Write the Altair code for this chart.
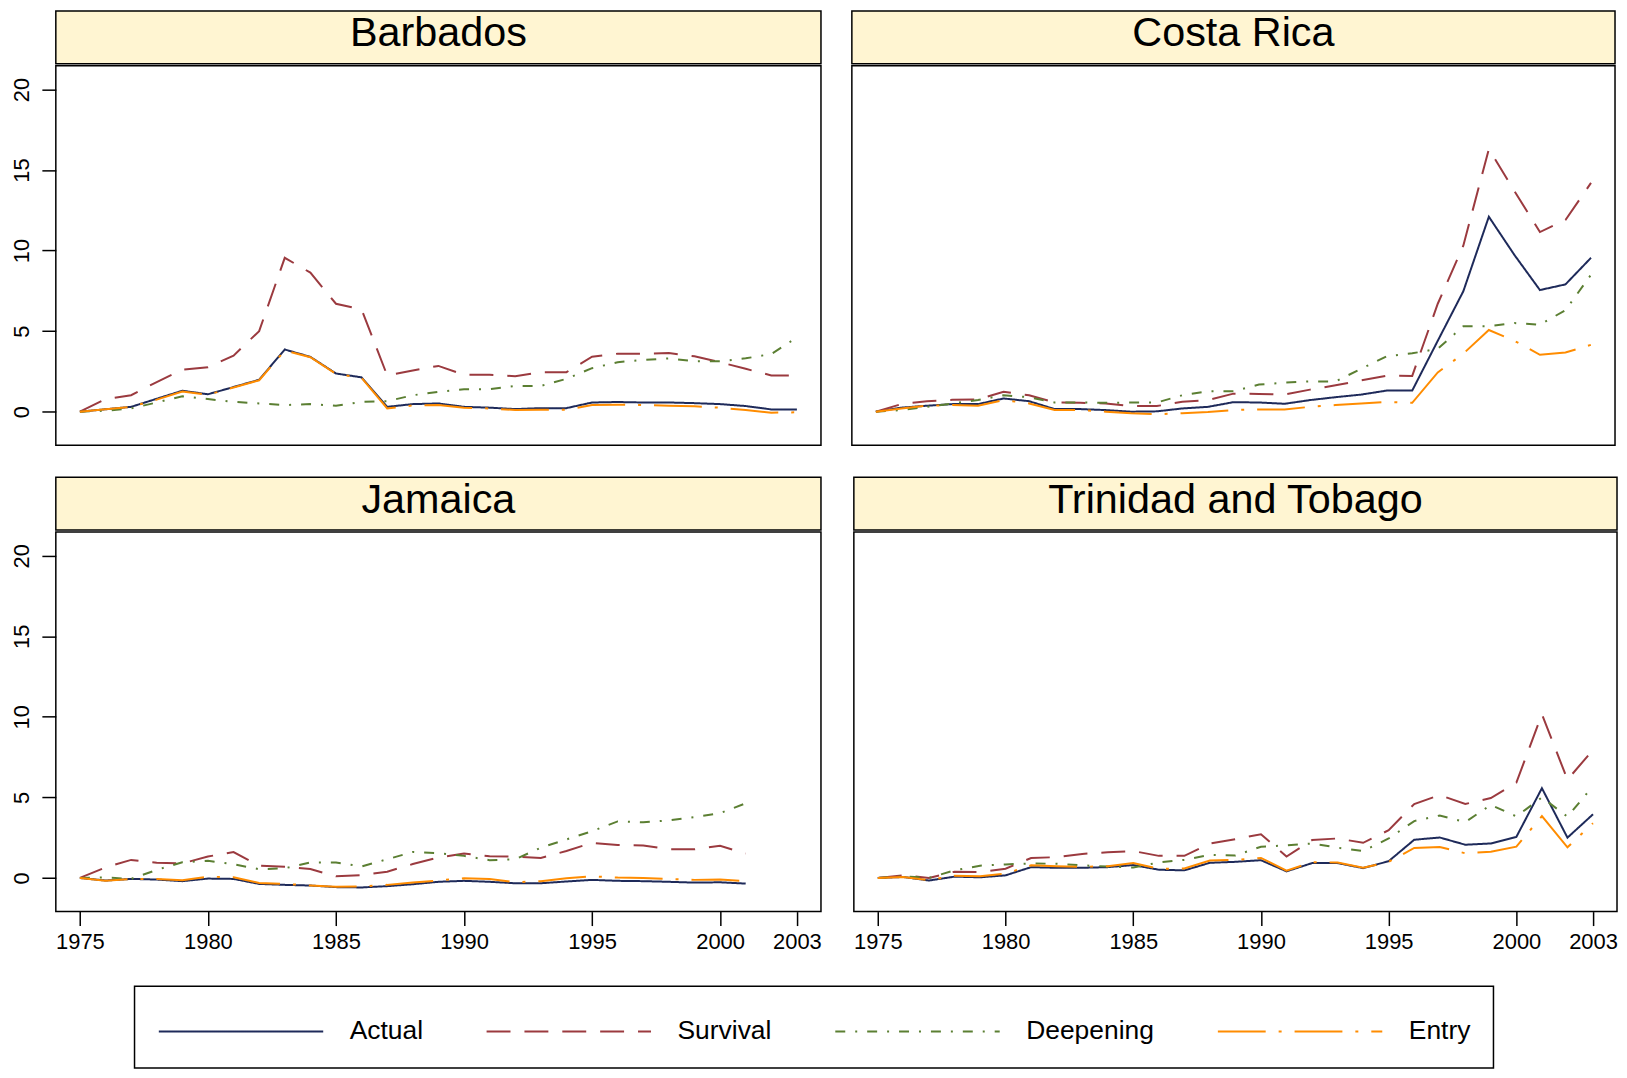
import altair as alt
import pandas as pd

FONT = "Liberation Sans"
STRIP_FILL = "#FFF5D2"

# ---- categories / styles ----
series_names = ["Actual", "Survival", "Deepening", "Entry"]
series_colors = ["#1E2A5A", "#9B3A3F", "#5B7F32", "#FF8C00"]
series_dashes = [[1, 0], [24, 14], [10, 10, 2, 10], [48, 13, 3, 13]]
x_ticks = [1975, 1980, 1985, 1990, 1995, 2000, 2003]
y_ticks = [0, 5, 10, 15, 20]

years_full = list(range(1975, 2004))
years_jam = list(range(1975, 2002))

# ---- Barbados ----
bar_actual = [0, 0.15, 0.3, 0.8, 1.3, 1.08, 1.53, 1.98, 3.86, 3.4, 2.37, 2.13, 0.3, 0.47, 0.51,
              0.3, 0.25, 0.16, 0.22, 0.22, 0.57, 0.6, 0.57, 0.57, 0.53, 0.47, 0.35, 0.14, 0.14]
bar_survival = [0, 0.78, 1.02, 1.84, 2.6, 2.76, 3.48, 5.0, 9.55, 8.63, 6.7, 6.34, 2.25, 2.56, 2.84,
                2.29, 2.29, 2.2, 2.45, 2.45, 3.41, 3.6, 3.6, 3.64, 3.44, 3.07, 2.66, 2.25, 2.25]
bar_deepening = [0, 0.06, 0.2, 0.57, 0.96, 0.78, 0.61, 0.51, 0.41, 0.47, 0.37, 0.61, 0.65, 1.02, 1.23,
                 1.39, 1.39, 1.6, 1.6, 2.04, 2.7, 3.07, 3.21, 3.31, 3.13, 3.13, 3.31, 3.58, 4.6]
bar_entry = [0, 0.15, 0.3, 0.75, 1.25, 1.05, 1.5, 1.95, 3.8, 3.38, 2.35, 2.1, 0.2, 0.39, 0.41,
             0.25, 0.2, 0.1, 0.12, 0.12, 0.41, 0.43, 0.41, 0.37, 0.33, 0.25, 0.1, -0.06, -0.04]

# ---- Costa Rica ----
cr_actual = [0, 0.25, 0.37, 0.47, 0.47, 0.82, 0.65, 0.16, 0.16, 0.1, 0.0, 0.02, 0.2, 0.3, 0.59,
             0.57, 0.49, 0.72, 0.9, 1.06, 1.31, 1.31, 4.4, 7.47, 12.1, 9.73, 7.55, 7.9, 9.55]
cr_survival = [0, 0.47, 0.65, 0.74, 0.76, 1.23, 1.02, 0.57, 0.55, 0.51, 0.35, 0.35, 0.61, 0.72, 1.12,
               1.1, 1.06, 1.37, 1.64, 1.94, 2.23, 2.22, 6.7, 10.3, 16.3, 13.7, 11.15, 11.9, 14.2]
cr_deepening = [0, 0.1, 0.3, 0.51, 0.72, 1.02, 0.9, 0.57, 0.57, 0.55, 0.57, 0.57, 1.02, 1.27, 1.27,
                1.68, 1.8, 1.88, 1.88, 2.66, 3.44, 3.62, 3.9, 5.3, 5.3, 5.5, 5.4, 6.3, 8.5]
cr_entry = [0, 0.2, 0.37, 0.41, 0.37, 0.72, 0.51, 0.1, 0.1, 0.0, -0.1, -0.16, -0.1, -0.02, 0.1,
            0.14, 0.14, 0.3, 0.41, 0.51, 0.61, 0.55, 2.44, 3.6, 5.07, 4.4, 3.53, 3.67, 4.15]

# ---- Jamaica (1975-2001) ----
jam_actual = [0, -0.16, -0.06, -0.1, -0.2, -0.04, -0.06, -0.37, -0.43, -0.47, -0.57, -0.59, -0.51, -0.39,
              -0.24, -0.18, -0.24, -0.33, -0.33, -0.22, -0.12, -0.18, -0.2, -0.24, -0.29, -0.27, -0.35]
jam_survival = [0, 0.65, 1.12, 0.95, 0.9, 1.33, 1.61, 0.76, 0.69, 0.55, 0.1, 0.18, 0.39, 0.86,
                1.27, 1.51, 1.35, 1.33, 1.24, 1.67, 2.18, 2.04, 2.02, 1.78, 1.78, 2.0, 1.51]
jam_deepening = [0, 0.03, -0.06, 0.5, 0.97, 1.06, 0.85, 0.54, 0.6, 0.96, 0.96, 0.71, 1.16, 1.61,
                 1.53, 1.37, 1.1, 1.16, 1.88, 2.39, 2.9, 3.51, 3.45, 3.57, 3.78, 4.02, 4.63]
jam_entry = [0, -0.18, -0.06, -0.06, -0.14, 0.08, 0.04, -0.31, -0.37, -0.47, -0.55, -0.53, -0.43, -0.29,
             -0.16, -0.02, -0.06, -0.27, -0.2, -0.02, 0.1, 0.02, 0.0, -0.06, -0.12, -0.1, -0.2]

# ---- Trinidad and Tobago ----
tt_actual = [0, 0.06, -0.16, 0.08, 0.04, 0.16, 0.67, 0.63, 0.63, 0.67, 0.8, 0.51, 0.47, 0.94, 1.0,
             1.1, 0.41, 0.92, 0.92, 0.61, 1.04, 2.37, 2.51, 2.06, 2.14, 2.55, 5.57, 2.5, 3.95]
tt_survival = [0, 0.16, 0.0, 0.39, 0.37, 0.57, 1.24, 1.29, 1.49, 1.59, 1.67, 1.37, 1.37, 2.14, 2.41,
               2.71, 1.33, 2.35, 2.45, 2.18, 2.96, 4.59, 5.14, 4.59, 4.96, 5.92, 10.16, 6.1, 7.95]
tt_deepening = [0, 0.1, 0.0, 0.47, 0.76, 0.84, 0.9, 0.88, 0.78, 0.71, 0.65, 0.96, 1.12, 1.43, 1.39,
                1.94, 2.02, 2.14, 1.88, 1.67, 2.45, 3.53, 3.88, 3.47, 4.53, 3.82, 5.0, 3.8, 5.7]
tt_entry = [0, 0.06, -0.14, 0.14, 0.1, 0.27, 0.78, 0.73, 0.69, 0.73, 0.92, 0.57, 0.59, 1.08, 1.12,
            1.24, 0.45, 0.98, 0.96, 0.63, 1.0, 1.86, 1.92, 1.53, 1.63, 1.94, 3.84, 1.9, 3.4]


def make_df(years, actual, survival, deepening, entry):
    rows = []
    for name, vals in zip(series_names, [actual, survival, deepening, entry]):
        for yr, v in zip(years, vals):
            rows.append({"series": name, "year": yr, "value": v})
    return pd.DataFrame(rows)


LEG = alt.Legend(
    title=None, orient="none", legendX=79, legendY=979, direction="horizontal",
    symbolType="M-1,0H7", symbolSize=1702, symbolStrokeWidth=2,
    labelFont=FONT, labelFontSize=26.5, labelColor="black", labelOffset=149,
    labelLimit=400, columnPadding=59, padding=23, strokeColor="black",
)

X_DOMAIN = [1974.06, 2003.94]
Y_DOMAIN = [-2.09, 21.47]
STRIP_H = 53
PLOT_H = 381


def panel(country, df, width, show_x, show_y):
    strip = alt.Chart(pd.DataFrame({"country": [country]})).mark_text(
        font=FONT, fontSize=41.5, color="black", align="center", baseline="middle"
    ).encode(
        text="country:N", x=alt.value(width / 2), y=alt.value(23.5)
    ).properties(
        width=width, height=STRIP_H,
        view=alt.ViewBackground(fill=STRIP_FILL, stroke="black", strokeWidth=1.5),
    )
    xaxis = alt.Axis(values=x_ticks, format="d", labelOverlap=False, labelFlush=False,
                     title=None, labelPadding=6) if show_x else None
    yaxis = alt.Axis(values=y_ticks, labelAngle=270, labelAlign="center",
                     labelBaseline="alphabetic", labelPadding=13, title=None) if show_y else None
    lines = alt.Chart(df).mark_line(strokeWidth=2).encode(
        x=alt.X("year:Q", scale=alt.Scale(domain=X_DOMAIN, nice=False, zero=False), axis=xaxis),
        y=alt.Y("value:Q", scale=alt.Scale(domain=Y_DOMAIN, nice=False, zero=False), axis=yaxis),
        color=alt.Color("series:N", scale=alt.Scale(domain=series_names, range=series_colors), legend=LEG),
        strokeDash=alt.StrokeDash("series:N", scale=alt.Scale(domain=series_names, range=series_dashes),
                                  legend=LEG),
    ).properties(
        width=width, height=PLOT_H,
        view=alt.ViewBackground(fill="white", stroke="black", strokeWidth=1.5),
    )
    return alt.vconcat(strip, lines, spacing=0)


W_LEFT = 768
W_RIGHT = 766

p_bar = panel("Barbados", make_df(years_full, bar_actual, bar_survival, bar_deepening, bar_entry), W_LEFT, False, True)
p_cr = panel("Costa Rica", make_df(years_full, cr_actual, cr_survival, cr_deepening, cr_entry), W_RIGHT, False, False)
p_jam = panel("Jamaica", make_df(years_jam, jam_actual, jam_survival, jam_deepening, jam_entry), W_LEFT, True, True)
p_tt = panel("Trinidad and Tobago", make_df(years_full, tt_actual, tt_survival, tt_deepening, tt_entry), W_RIGHT, True, False)

top = alt.hconcat(p_bar, p_cr, spacing=29)
bottom = alt.hconcat(p_jam, p_tt, spacing=29)

chart = alt.vconcat(top, bottom, spacing=30).properties(
    padding={"left": 2, "top": 0, "right": 0, "bottom": 0}, background="white"
).configure(
    font=FONT
).configure_axis(
    labelFont=FONT, labelFontSize=22, labelColor="black", tickColor="black",
    tickWidth=1.5, tickSize=14, domain=False, grid=False,
).configure_legend(
    strokeWidth=1.5
)

chart.save("out.html", embed_options={"renderer": "svg", "actions": False})
